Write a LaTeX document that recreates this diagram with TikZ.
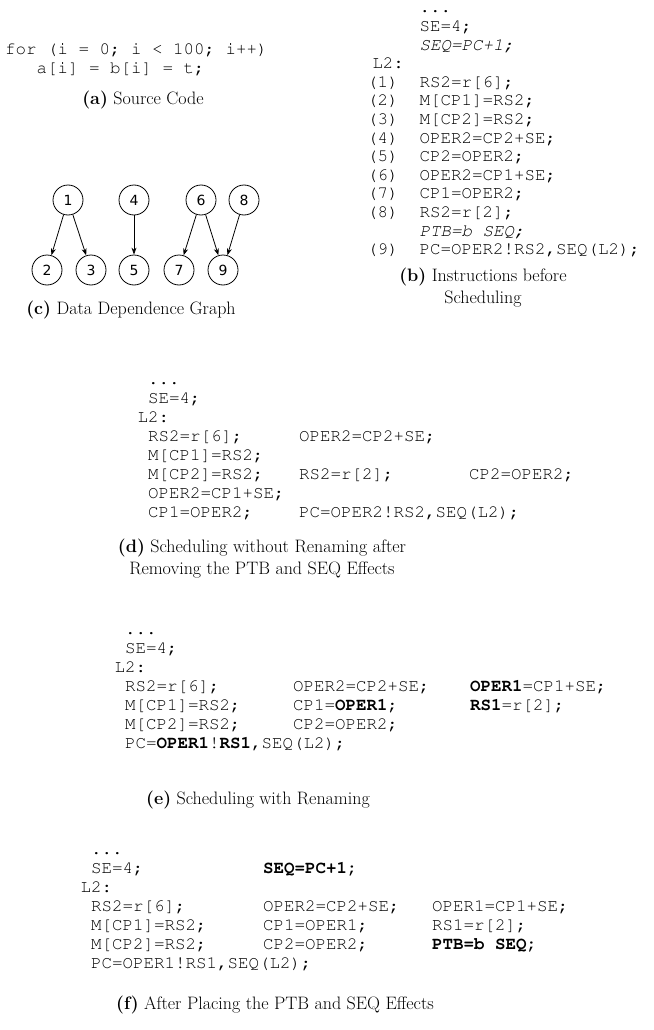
\documentclass[tikz,border=0pt]{standalone}
\usepackage[T1]{fontenc}
\usepackage{fontspec}
\newfontfamily\graphfont{DejaVu Sans}
\usetikzlibrary{positioning, arrows.meta}
\newcommand{\codefont}{\fontencoding{T1}\fontfamily{pcr}\fontsize{17.5}{19}\selectfont}
\newcommand{\capfont}{\fontsize{18}{22}\selectfont}
\newcommand{\lines}[1]{\begin{tabular}[t]{@{}l@{}}#1\end{tabular}}
\tikzset{
  codebox/.style={anchor=base west, inner sep=0pt, font=\codefont},
  capbox/.style={align=center, inner sep=0pt, font=\capfont},
  ddgnode/.style={circle, draw, line width=0.8pt, minimum size=30pt, inner sep=0pt,
                  font=\graphfont\fontsize{14}{14}\selectfont},
  dep/.style={-{Stealth[length=7pt, width=5pt]}, line width=0.8pt},
}

\begin{document}
\begin{tikzpicture}[x=1pt, y=-1pt]
  \useasboundingbox (0,0) rectangle (653,1030);
  % (a) source code
  \node[codebox] (src) at (5,55)
    {\lines{for (i = 0; i < 100; i++)\\\hspace*{1.8em}a[i] = b[i] = t;}};
  \node[capbox] (capa) at (143,100) {\textbf{(a)} Source Code};
  % (c) data dependence graph
  \node[ddgnode] (n1) at (68,200) {1};
  \node[ddgnode] (n4) at (134,200) {4};
  \node[ddgnode] (n6) at (201,200) {6};
  \node[ddgnode] (n8) at (244,200) {8};
  \node[ddgnode] (n2) at (47,270) {2};
  \node[ddgnode] (n3) at (91,270) {3};
  \node[ddgnode] (n5) at (134,270) {5};
  \node[ddgnode] (n7) at (179,270) {7};
  \node[ddgnode] (n9) at (223,270) {9};
  \draw[dep] (n1) -- (n2);
  \draw[dep] (n1) -- (n3);
  \draw[dep] (n4) -- (n5);
  \draw[dep] (n6) -- (n7);
  \draw[dep] (n6) -- (n9);
  \draw[dep] (n8) -- (n9);
  \node[capbox] (capc) at (131,310) {\textbf{(c)} Data Dependence Graph};
  % (b) instructions before scheduling
  \node[codebox, font={\codefont\fontsize{17.5}{18.6}\selectfont}] (before) at (367,13) {\lines{%
    \hspace*{3em}...\\
    \hspace*{3em}SE=4;\\
    \hspace*{3em}\textit{SEQ=PC+1;}\\
    \hspace*{0.3em}L2:\\
    (1)~~RS2=r[6];\\
    (2)~~M[CP1]=RS2;\\
    (3)~~M[CP2]=RS2;\\
    (4)~~OPER2=CP2+SE;\\
    (5)~~CP2=OPER2;\\
    (6)~~OPER2=CP1+SE;\\
    (7)~~CP1=OPER2;\\
    (8)~~RS2=r[2];\\
    \hspace*{3em}\textit{PTB=b SEQ;}\\
    (9)~~PC=OPER2!RS2,SEQ(L2);}};
  \node[capbox] (capb) at (483,288) {\textbf{(b)} Instructions before\\Scheduling};
  % (d) scheduling without renaming
  \node[codebox] (d1) at (148,384) {\lines{%
    ...\\SE=4;\\\hspace*{-0.6em}L2:\\RS2=r[6];\\M[CP1]=RS2;\\M[CP2]=RS2;\\
    OPER2=CP1+SE;\\CP1=OPER2;}};
  \node[codebox] (d2) at (299,441)
    {\lines{OPER2=CP2+SE;\\ \\RS2=r[2];\\ \\PC=OPER2!RS2,SEQ(L2);}};
  \node[codebox] (d3) at (469,479) {CP2=OPER2;};
  \node[capbox] (capd) at (262,559)
    {\textbf{(d)} Scheduling without Renaming after\\Removing the PTB and SEQ Effects};
  % (e) scheduling with renaming
  \node[codebox] (e1) at (125,634) {\lines{%
    ...\\SE=4;\\\hspace*{-0.6em}L2:\\RS2=r[6];\\M[CP1]=RS2;\\M[CP2]=RS2;\\
    PC=\textbf{OPER1}!\textbf{RS1},SEQ(L2);}};
  \node[codebox] (e2) at (293,691)
    {\lines{OPER2=CP2+SE;\\CP1=\textbf{OPER1};\\CP2=OPER2;}};
  \node[codebox] (e3) at (470,691)
    {\lines{\textbf{OPER1}=CP1+SE;\\\textbf{RS1}=r[2];}};
  \node[capbox] (cape) at (258,800) {\textbf{(e)} Scheduling with Renaming};
  % (f) after placing the effects
  \node[codebox] (f1) at (91,854) {\lines{%
    ...\\SE=4;\\\hspace*{-0.6em}L2:\\RS2=r[6];\\M[CP1]=RS2;\\M[CP2]=RS2;\\
    PC=OPER1!RS1,SEQ(L2);}};
  \node[codebox] (f2) at (263,873)
    {\lines{\textbf{SEQ=PC+1;}\\ \\OPER2=CP2+SE;\\CP1=OPER1;\\CP2=OPER2;}};
  \node[codebox] (f3) at (432,911)
    {\lines{OPER1=CP1+SE;\\RS1=r[2];\\\textbf{PTB=b SEQ;}}};
  \node[capbox] (capf) at (275,1005) {\textbf{(f)} After Placing the PTB and SEQ Effects};
\end{tikzpicture}
\end{document}
